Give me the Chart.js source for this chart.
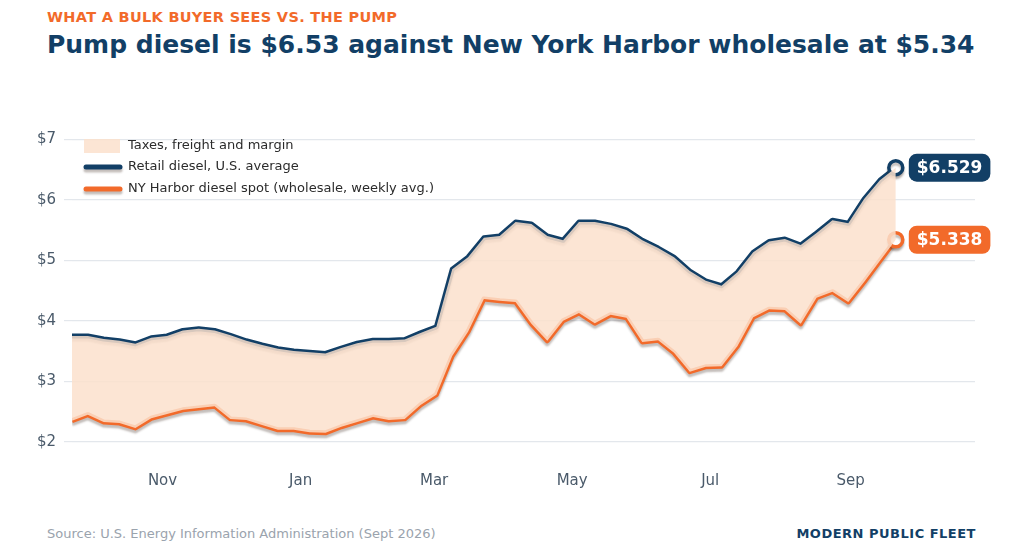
<!DOCTYPE html>
<html><head><meta charset="utf-8">
<script src="https://cdn.jsdelivr.net/npm/chart.js@4.4.1/dist/chart.umd.min.js"></script>
<style>
body{margin:0;width:1024px;height:546px;background:#fff;font-family:"DejaVu Sans",sans-serif;position:relative;overflow:hidden}
#kick{position:absolute;left:47px;top:9px;font-size:14.5px;font-weight:bold;color:#f26a2a;letter-spacing:0.3px}
#title{position:absolute;left:47px;top:30px;font-size:25px;font-weight:bold;color:#123f66;white-space:nowrap}
#src{position:absolute;left:47px;top:526px;font-size:13px;color:#9aa3ad}
#brand{position:absolute;right:48px;top:526px;font-size:13px;font-weight:bold;color:#123f66;letter-spacing:0.5px}
#wrap{position:absolute;left:0;top:110px;width:1024px;height:382px}
</style></head><body>
<div id="kick">WHAT A BULK BUYER SEES VS. THE PUMP</div>
<div id="title">Pump diesel is $6.53 against New York Harbor wholesale at $5.34</div>
<div id="wrap"><canvas id="c"></canvas></div>
<div id="src">Source: U.S. Energy Information Administration (Sept 2026)</div>
<div id="brand">MODERN PUBLIC FLEET</div>
<script>
const weekDays = Array.from({length:53},(_, i)=>i*7); // weekly observations, days since start
const retail = [3.75,3.75,3.70,3.67,3.62,3.72,3.75,3.84,3.87,3.84,3.76,3.67,3.60,3.54,3.50,3.48,3.46,3.55,3.63,3.68,3.68,3.69,3.80,3.90,4.85,5.05,5.37,5.40,5.63,5.60,5.40,5.33,5.63,5.63,5.58,5.50,5.33,5.20,5.05,4.82,4.66,4.58,4.80,5.13,5.31,5.35,5.25,5.45,5.66,5.61,6.01,6.32,6.529];
const spot = [2.35,2.45,2.33,2.31,2.23,2.39,2.46,2.53,2.56,2.59,2.38,2.36,2.28,2.20,2.20,2.16,2.15,2.25,2.33,2.41,2.36,2.38,2.61,2.78,3.42,3.82,4.36,4.33,4.31,3.95,3.67,4.00,4.13,3.96,4.10,4.05,3.65,3.68,3.47,3.16,3.24,3.25,3.58,4.06,4.19,4.18,3.95,4.38,4.48,4.31,4.64,4.99,5.338];
const monthLabels = ['Nov','Jan','Mar','May','Jul','Sep'];
const monthDays = [40,101,160,221,282,344];
const yTicks = [2,3,4,5,6,7];
const seriesNames = ['Taxes, freight and margin','Retail diesel, U.S. average','NY Harbor diesel spot (wholesale, weekly avg.)'];
const NAVY='#123f66', ORANGE='#f26a2a', PEACH='rgba(252,225,204,0.85)';
const pts = a => a.map((v,i)=>({x:weekDays[i],y:v}));
const lastR = a => a.map((v,i)=>i===a.length-1?7:0);

const plugin = {
  id:'extras',
  beforeDatasetDraw(chart,args){
    if(args.index>0){const c=chart.ctx;c.save();c.shadowColor='rgba(60,40,30,0.3)';c.shadowOffsetY=3;c.shadowBlur=2;}
  },
  afterDatasetDraw(chart,args){ if(args.index>0) chart.ctx.restore(); },
  afterDatasetsDraw(chart){
    const c=chart.ctx;
    // legend
    const lx=84, items=[[PEACH,'box'],[NAVY,'line'],[ORANGE,'line']];
    const ly=[146-110,167-110,189-110];
    c.save();
    c.font='13px "DejaVu Sans"';c.textBaseline='middle';
    items.forEach((it,k)=>{
      if(it[1]==='box'){c.fillStyle=PEACH;c.fillRect(lx,ly[k]-7,36,14);}
      else{c.save();c.shadowColor='rgba(60,40,30,0.3)';c.shadowOffsetY=3;c.shadowBlur=2;c.strokeStyle=it[0];c.lineWidth=5;c.lineCap='round';c.beginPath();c.moveTo(lx+2,ly[k]);c.lineTo(lx+36,ly[k]);c.stroke();c.restore();}
      c.fillStyle='#2b2b2b';c.fillText(seriesNames[k],lx+44,ly[k]);
    });
    // end labels
    [[1,NAVY,retail],[2,ORANGE,spot]].forEach(([di,col,arr])=>{
      const meta=chart.getDatasetMeta(di);const p=meta.data[meta.data.length-1];
      const txt='$'+arr[arr.length-1].toFixed(3);
      c.font='bold 17px "DejaVu Sans"';
      const w=c.measureText(txt).width+16,h=28,x=p.x+13,y=p.y-h/2;
      c.fillStyle=col;c.beginPath();c.roundRect(x,y,w,h,8);c.fill();
      c.fillStyle='#fff';c.textAlign='left';c.fillText(txt,x+8,p.y+1);
    });
    c.restore();
  }
};

new Chart(document.getElementById('c'),{
  type:'line',
  data:{datasets:[
    {label:seriesNames[0],data:pts(retail),borderWidth:0,pointRadius:0,fill:2,backgroundColor:PEACH,tension:0},
    {label:seriesNames[1],data:pts(retail),borderColor:NAVY,borderWidth:5,fill:false,pointRadius:lastR(retail),pointBackgroundColor:'#fff',pointBorderColor:NAVY,pointBorderWidth:3.5,borderJoinStyle:'round',tension:0},
    {label:seriesNames[2],data:pts(spot),borderColor:ORANGE,borderWidth:5,fill:false,pointRadius:lastR(spot),pointBackgroundColor:'#fff',pointBorderColor:ORANGE,pointBorderWidth:3.5,borderJoinStyle:'round',tension:0}
  ]},
  options:{
    responsive:true,maintainAspectRatio:false,animation:false,
    layout:{padding:{top:17,right:49,left:0,bottom:0}},
    plugins:{legend:{display:false},tooltip:{enabled:false}},
    scales:{
      x:{type:'linear',min:0,max:399,
        afterBuildTicks:s=>{s.ticks=monthDays.map(v=>({value:v}));},
        afterFit:s=>{s.height=38;},
        grid:{display:false},border:{display:false},
        ticks:{autoSkip:false,maxRotation:0,color:'#4a5a6a',font:{size:15,family:'DejaVu Sans'},padding:10,
          callback:(v)=>monthLabels[monthDays.indexOf(v)]}},
      y:{min:1.8,max:7.2,
        afterBuildTicks:s=>{s.ticks=yTicks.map(v=>({value:v}));},
        afterFit:s=>{s.width=72;},
        grid:{color:'#e3e7ec',lineWidth:1.2},border:{display:false},
        ticks:{color:'#4a5a6a',font:{size:15,family:'DejaVu Sans'},padding:8,callback:v=>'$'+v}}
    }
  },
  plugins:[plugin]
});
</script>
</body></html>
